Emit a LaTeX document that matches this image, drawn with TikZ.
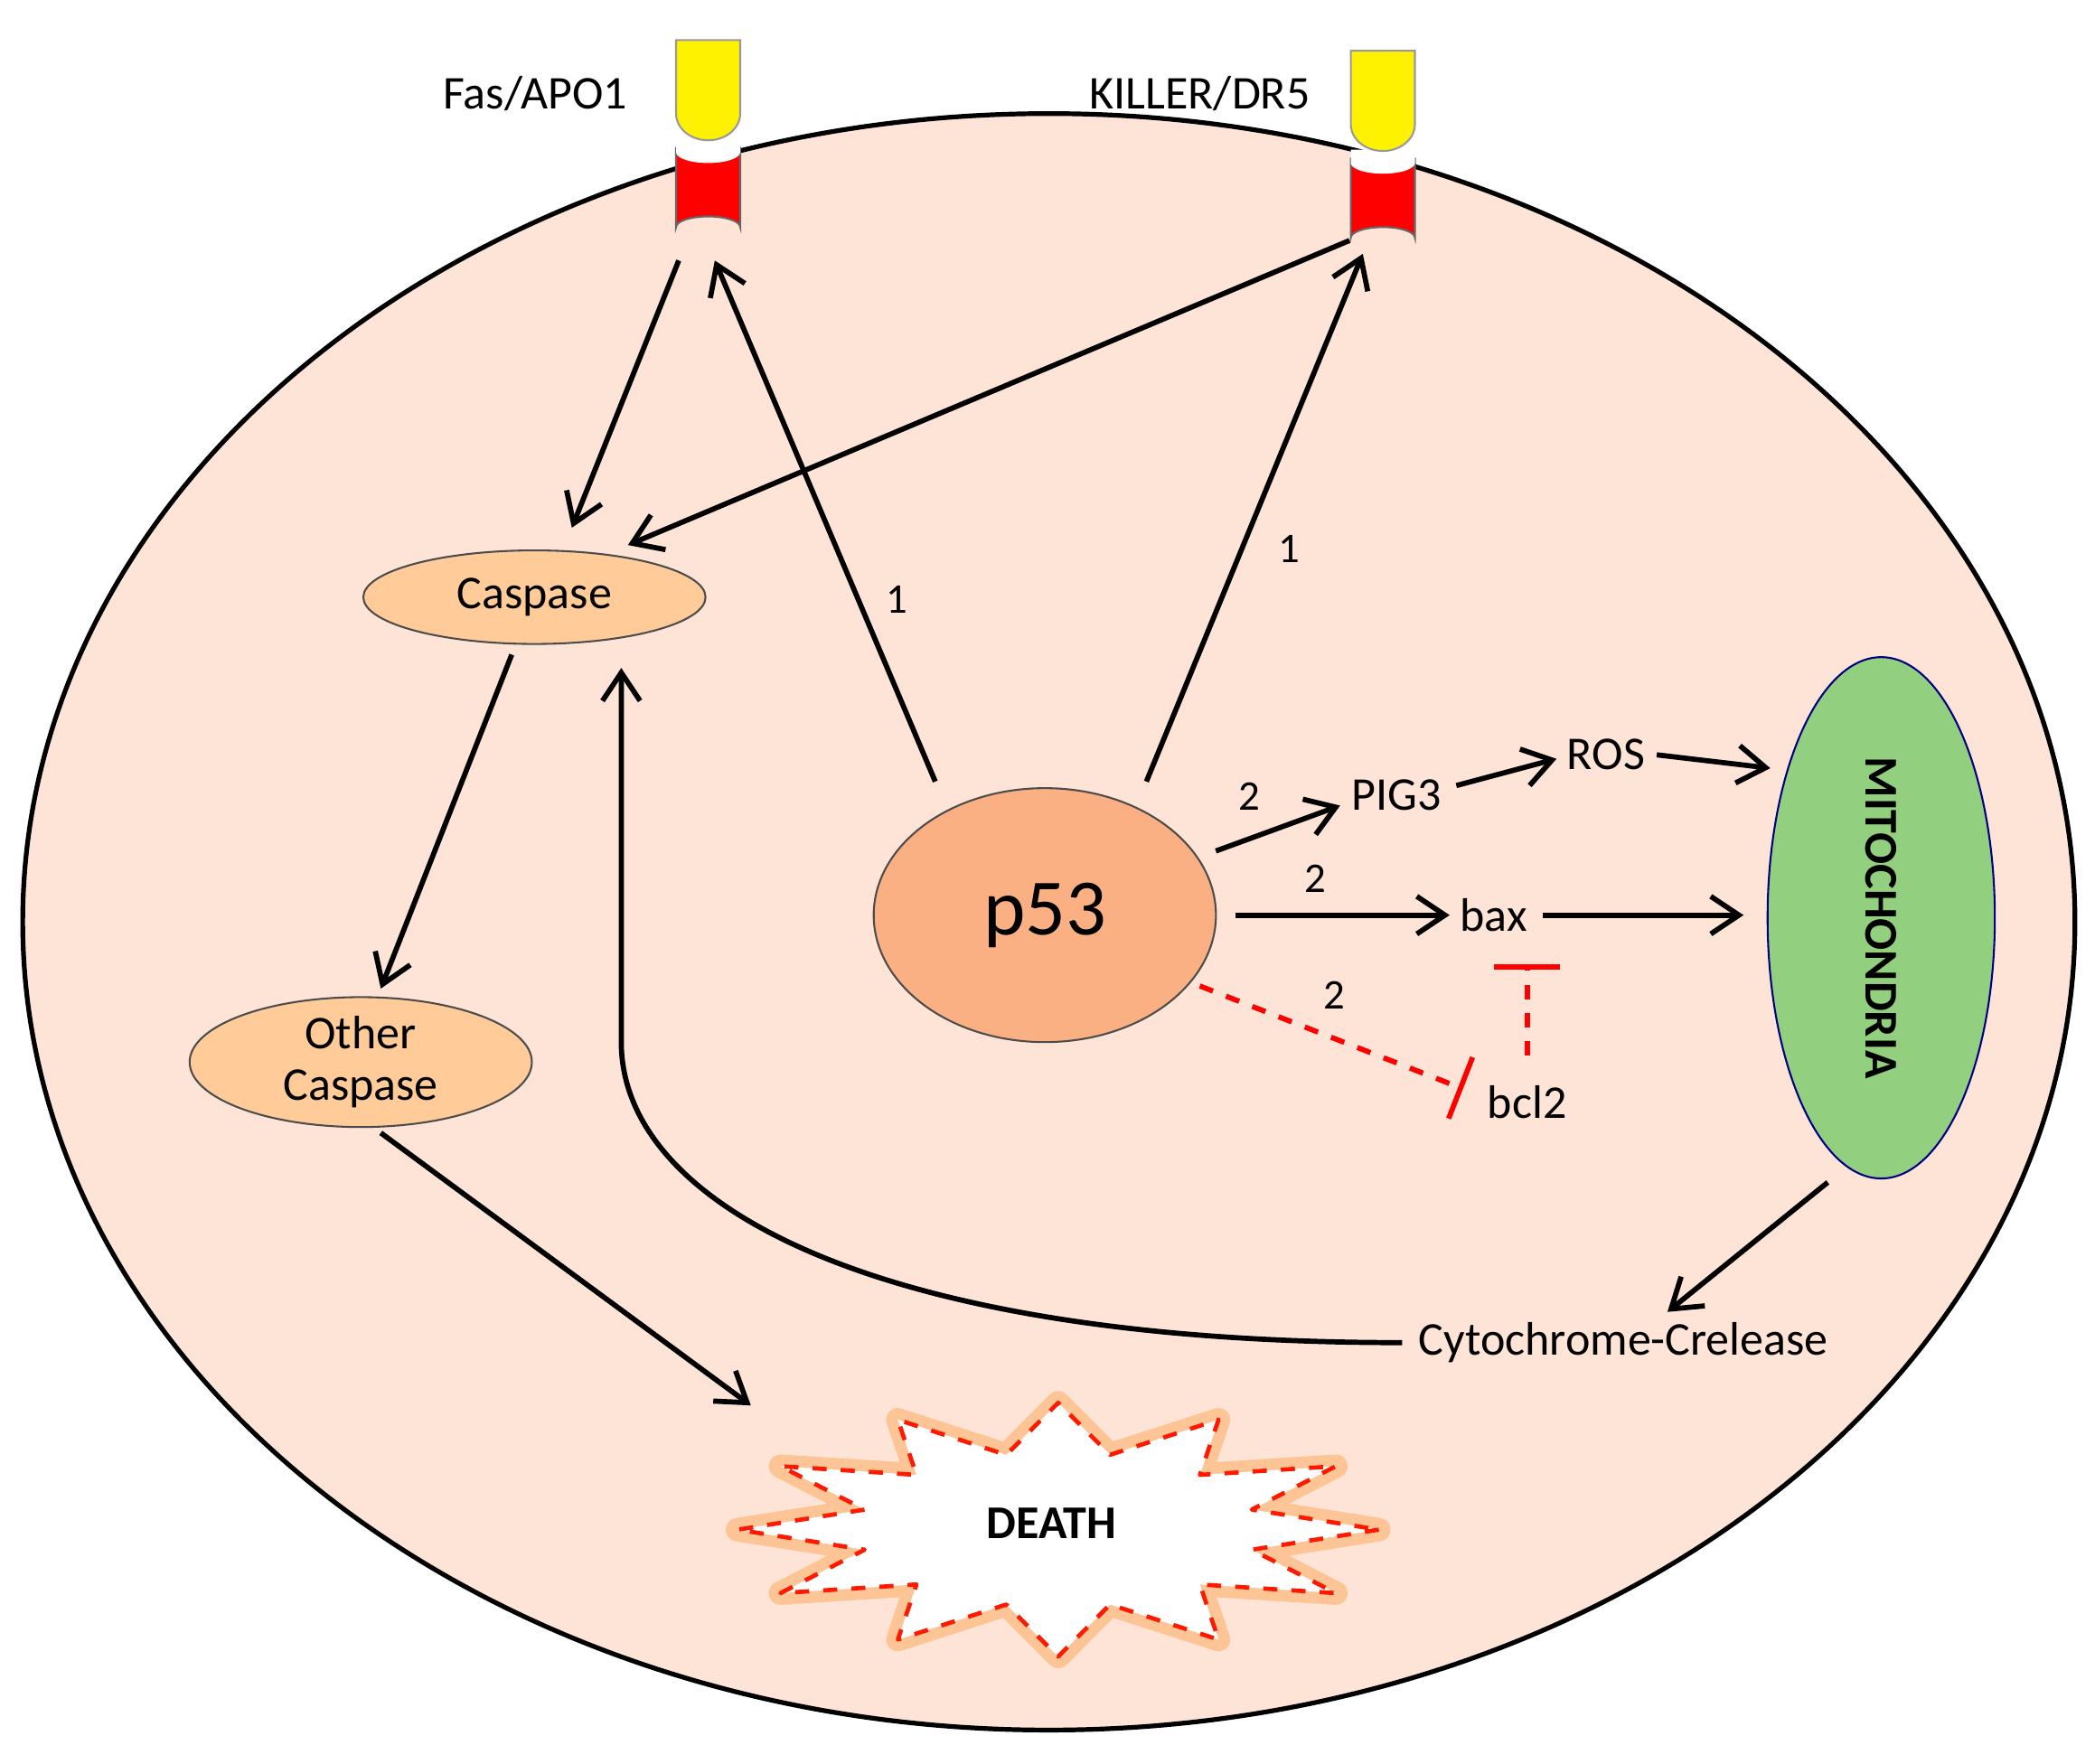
\documentclass[tikz,border=0pt]{standalone}
\usepackage{fontspec}
\setmainfont{Carlito}
\usetikzlibrary{arrows.meta,shapes.geometric}
\begin{document}
\begin{tikzpicture}[x=0.01cm,y=-0.01cm,
  arr/.style={-{Straight Barb[length=6pt,width=8pt]},line width=1.1pt},
  inh/.style={red,dashed,line width=1.1pt,-{Bar[width=14pt]}},
  oval/.style={ellipse,draw=black!70,fill=orange!40,font=\fontsize{10}{11}\selectfont,inner sep=0pt},
  lbl/.style={font=\fontsize{10}{11}\selectfont},
  num/.style={font=\fontsize{9}{10}\selectfont}]
\useasboundingbox (0,0) rectangle (1568,1320);
\fill[white] (0,0) rectangle (1568,1320);
% cell
\draw[fill={rgb,255:red,253;green,228;blue,214},line width=1pt] (785,690) ellipse [x radius=768, y radius=605];
% receptors
\foreach \x/\t in {530/30,1035/38}{
  \fill[red] (\x-24,\t+80) -- (\x+24,\t+80) -- (\x+24,\t+140) arc[start angle=0,end angle=-180,x radius=24,y radius=8] -- cycle;
  \draw[black!60] (\x-24,\t+80) -- (\x-24,\t+140) arc[start angle=180,end angle=360,x radius=24,y radius=8] -- (\x+24,\t+80);
  \fill[white] (\x-24,\t+74) -- (\x+24,\t+74) -- (\x+24,\t+84) arc[start angle=0,end angle=180,x radius=24,y radius=8] -- cycle;
  \fill[yellow,draw=black!40] (\x-24,\t) -- (\x+24,\t) -- (\x+24,\t+55) arc[start angle=0,end angle=180,x radius=24,y radius=20] -- cycle;
}
\node[lbl,anchor=east] (fas) at (482,70) {Fas/APO1};
\node[lbl,anchor=east] (killer) at (993,70) {KILLER/DR5};
\coordinate (fasb) at (508,195);
\coordinate (fast) at (535,195);
\coordinate (kilb) at (1010,180);
\coordinate (kilt) at (1020,190);
% nodes
\node[oval,minimum width=2.56cm,minimum height=0.7cm] (casp) at (400,447) {Caspase};
\node[oval,minimum width=2.56cm,minimum height=0.9cm,align=center] (oth) at (270,795) {Other\\Caspase};
\node[ellipse,draw=black!70,fill={rgb,255:red,250;green,176;blue,130},minimum width=2.56cm,minimum height=1.9cm,font=\fontsize{17}{19}\selectfont] (p53) at (782,685) {p53};
\node[ellipse,draw=blue!50!black,fill={rgb,255:red,146;green,208;blue,128},minimum width=1.7cm,minimum height=3.9cm] (mito) at (1408,687) {};
\node[rotate=-90,font=\bfseries\fontsize{10}{11}\selectfont] at (mito) {MITOCHONDRIA};
\node[lbl] (pig) at (1045,595) {PIG3};
\node[lbl] (ros) at (1202,565) {ROS};
\node[lbl] (bax) at (1118,685) {bax};
\node[lbl] (bcl) at (1143,825) {bcl2};
\node[lbl] (cyt) at (1215,1005) {Cytochrome-Crelease};
% death
\begin{scope}[shift={(792,1145)}]
\draw[orange,line width=5pt,opacity=0.3,line join=round] (0:240 and 95) \foreach \i in {1,...,23}{ -- ({\i*360/24}:{ifthenelse(mod(\i,2)==0,240,150)} and {ifthenelse(mod(\i,2)==0,95,58)}) } -- cycle;
\draw[red!80!orange,dashed,line width=0.9pt,fill=white,line join=round] (0:240 and 95) \foreach \i in {1,...,23}{ -- ({\i*360/24}:{ifthenelse(mod(\i,2)==0,240,150)} and {ifthenelse(mod(\i,2)==0,95,58)}) } -- cycle;
\end{scope}
\node[font=\bfseries\fontsize{10}{11}\selectfont] (death) at (787,1140) {DEATH};
\coordinate (deathtip) at (562,1052);
% arrows
\draw[arr] (fasb) -- (428,395);
\draw[arr] (kilb) -- (470,408);
\draw[arr] (700,585) -- (fast) node[num,pos=0.35,right=2pt] {1};
\draw[arr] (858,585) -- (kilt) node[num,pos=0.44,right=4pt] {1};
\draw[arr] (383,490) -- (285,740);
\draw[arr] (285,848) -- (deathtip);
\draw[arr] (1368,885) -- (1248,982);
\draw[arr] (cyt.west) .. controls (650,1005) and (465,900) .. (465,780) -- (465,500);
\draw[arr] (910,637) -- (1003,603) node[num,midway,above left=0pt] {2};
\draw[arr] (1090,588) -- (1165,568);
\draw[arr] (1240,565) -- (1325,575);
\draw[arr] (925,685) -- (1085,685) node[num,pos=0.37,above=1pt] {2};
\draw[arr] (1155,685) -- (1305,685);
\draw[inh] (898,738) -- (1095,815) node[num,pos=0.4,above right=0pt,black] {2};
\draw[inh] (1143,790) -- (1143,722);
\end{tikzpicture}
\end{document}
